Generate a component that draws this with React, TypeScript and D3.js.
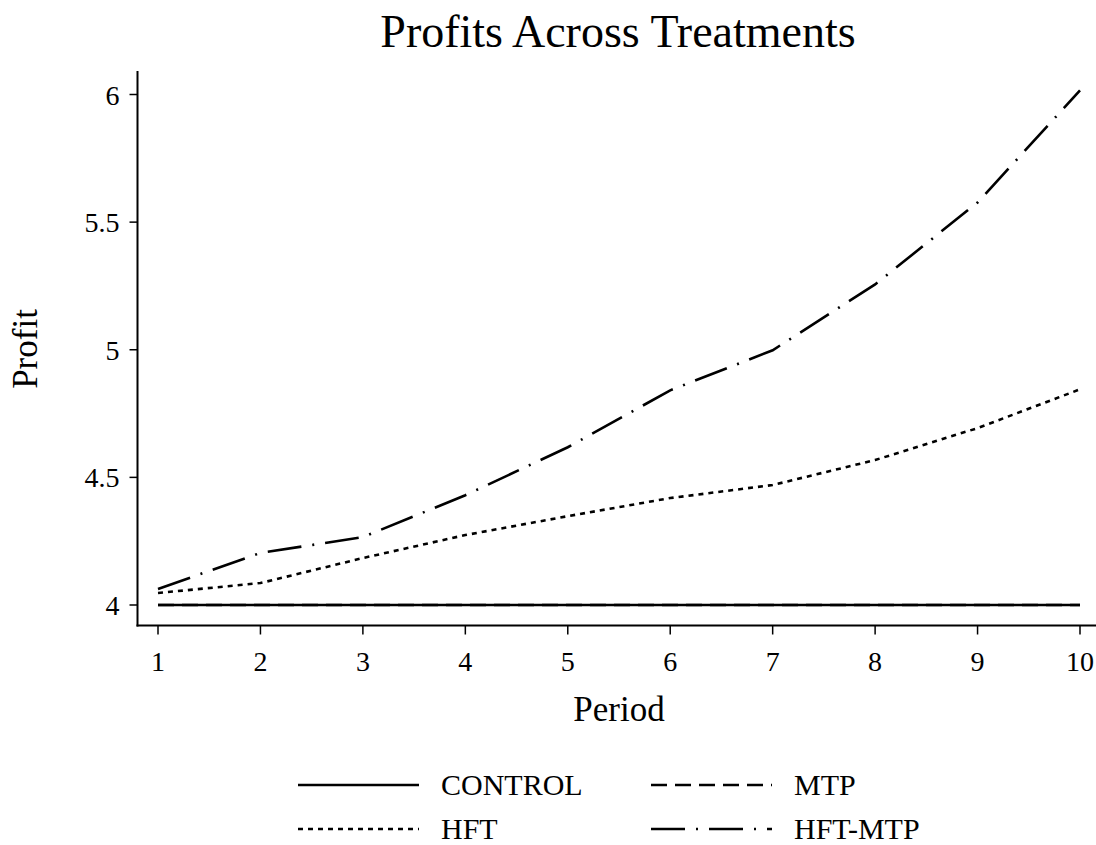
import React from "react";
import * as d3 from "d3";

const periods = [1, 2, 3, 4, 5, 6, 7, 8, 9, 10];
const controlProfit = [4, 4, 4, 4, 4, 4, 4, 4, 4, 4];
const mtpProfit = [4, 4, 4, 4, 4, 4, 4, 4, 4, 4];
const hftProfit = [4.047, 4.086, 4.184, 4.274, 4.348, 4.419, 4.47, 4.568, 4.693, 4.845];
const hftMtpProfit = [4.063, 4.204, 4.266, 4.43, 4.618, 4.841, 4.998, 5.256, 5.577, 6.016];
const yTicks = [4, 4.5, 5, 5.5, 6];
const yTickLabels = ["4", "4.5", "5", "5.5", "6"];

const W = 1096;
const H = 845;
const FONT = "'Liberation Serif', 'Times New Roman', serif";

const DASH_MTP = "16,8";
const DASH_HFT = "5,5";
const DASH_HFTMTP = "34,11,2,11";

const series = [
  { name: "MTP", values: mtpProfit, dash: DASH_MTP },
  { name: "CONTROL", values: controlProfit, dash: null as string | null },
  { name: "HFT", values: hftProfit, dash: DASH_HFT },
  { name: "HFT-MTP", values: hftMtpProfit, dash: DASH_HFTMTP },
];

const legendItems = [
  { name: "CONTROL", dash: null as string | null, col: 0, row: 0 },
  { name: "MTP", dash: DASH_MTP, col: 1, row: 0 },
  { name: "HFT", dash: DASH_HFT, col: 0, row: 1 },
  { name: "HFT-MTP", dash: DASH_HFTMTP, col: 1, row: 1 },
];

export default function App() {
  const x = d3.scaleLinear().domain([1, 10]).range([158, 1080]);
  const y = d3.scaleLinear().domain([4, 6]).range([605, 94.5]);
  const axisLeft = 137.5;
  const axisBottom = 625.5;

  const line = d3
    .line<number>()
    .x((_, i) => x(periods[i]))
    .y((d) => y(d));

  return (
    <svg
      width={W}
      height={H}
      style={{ position: "absolute", left: 0, top: 0, background: "#fff" }}
      fontFamily={FONT}
    >
      <rect x={0} y={0} width={W} height={H} fill="#fff" />
      <text x={618} y={47} textAnchor="middle" fontSize={46} fill="#000">
        Profits Across Treatments
      </text>

      {/* axes */}
      <line x1={axisLeft} x2={axisLeft} y1={71} y2={axisBottom + 1} stroke="#000" strokeWidth={2} />
      <line x1={axisLeft - 1} x2={W} y1={axisBottom} y2={axisBottom} stroke="#000" strokeWidth={2} />

      {yTicks.map((t, i) => (
        <g key={t}>
          <line x1={axisLeft - 8} x2={axisLeft} y1={y(t)} y2={y(t)} stroke="#000" strokeWidth={1.5} />
          <text x={axisLeft - 18} y={y(t) + 10} textAnchor="end" fontSize={28} fill="#000">
            {yTickLabels[i]}
          </text>
        </g>
      ))}
      {periods.map((p) => (
        <g key={p}>
          <line x1={x(p)} x2={x(p)} y1={axisBottom} y2={axisBottom + 9} stroke="#000" strokeWidth={1.5} />
          <text x={x(p)} y={axisBottom + 45} textAnchor="middle" fontSize={28} fill="#000">
            {p}
          </text>
        </g>
      ))}

      <text x={619} y={721} textAnchor="middle" fontSize={35} fill="#000">
        Period
      </text>
      <text
        transform={`translate(37,349) rotate(-90)`}
        textAnchor="middle"
        fontSize={35}
        fill="#000"
      >
        Profit
      </text>

      {series.map((s) => (
        <path
          key={s.name}
          d={line(s.values) || ""}
          fill="none"
          stroke="#000"
          strokeWidth={2.6}
          strokeDasharray={s.dash || undefined}
        />
      ))}

      {legendItems.map((it) => {
        const lx = it.col === 0 ? 298 : 651;
        const ly = it.row === 0 ? 785 : 829;
        return (
          <g key={it.name}>
            <line
              x1={lx}
              x2={lx + 121}
              y1={ly}
              y2={ly}
              stroke="#000"
              strokeWidth={2.6}
              strokeDasharray={it.dash || undefined}
            />
            <text x={lx + 143} y={ly + 10} fontSize={30} fill="#000">
              {it.name}
            </text>
          </g>
        );
      })}
    </svg>
  );
}
